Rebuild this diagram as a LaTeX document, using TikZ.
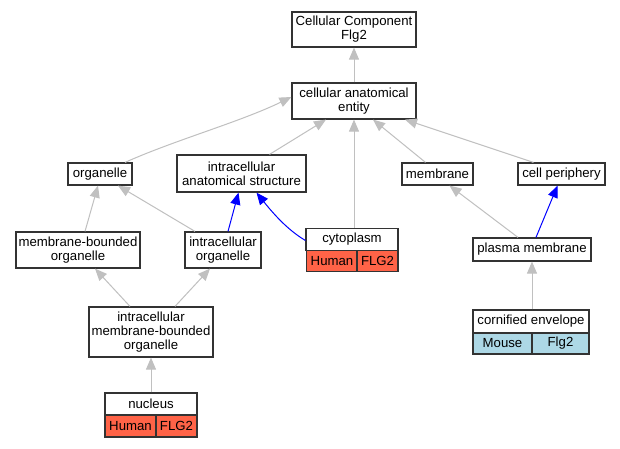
\documentclass[tikz,border=0pt]{standalone}
\usepackage{fontspec}
\setmainfont{Liberation Sans}
\usetikzlibrary{arrows.meta,calc}
\definecolor{edgegray}{HTML}{C0C0C0}
\definecolor{tomatoc}{HTML}{FF6347}
\definecolor{lblue}{HTML}{ADD8E6}
\definecolor{bord}{HTML}{333333}
\begin{document}
\begin{tikzpicture}[x=1pt,y=-1pt,
  box/.style={draw=bord,line width=1.2pt,fill=white,inner sep=0pt,align=center,
    font=\fontsize{13.2}{14}\selectfont},
  gedge/.style={draw=edgegray,line width=1pt,-{Triangle[length=12pt,width=10pt]}},
  bedge/.style={draw=blue,line width=1pt,-{Triangle[length=12pt,width=10pt]}}]
\useasboundingbox[fill=white] (0,0) rectangle (620,448);
% nodes
\node[box,minimum width=124pt,minimum height=35pt] (cc) at (354,29.5) {Cellular Component\\Flg2};
\node[box,minimum width=124pt,minimum height=36pt] (cae) at (354,101) {cellular anatomical\\entity};
\node[box,minimum width=64pt,minimum height=22pt] (org) at (100,174) {organelle};
\node[box,minimum width=129pt,minimum height=37pt] (ias) at (241.5,173.5) {intracellular\\anatomical structure};
\node[box,minimum width=71pt,minimum height=22pt] (mem) at (437.5,174) {membrane};
\node[box,minimum width=87pt,minimum height=22pt] (cp) at (561.5,174) {cell periphery};
\node[box,minimum width=124pt,minimum height=36pt] (mbo) at (78,250) {membrane-bounded\\organelle};
\node[box,minimum width=76pt,minimum height=36pt] (io) at (223,250) {intracellular\\organelle};
\node[box,minimum width=118pt,minimum height=23pt] (pm) at (532,249.5) {plasma membrane};
\node[box,minimum width=124pt,minimum height=50pt] (imbo) at (151,332) {intracellular\\membrane-bounded\\organelle};
% cytoplasm record
\node[box,minimum width=92pt,minimum height=22pt] (cyto) at (352,239.5) {cytoplasm};
\node[box,fill=tomatoc,minimum width=51pt,minimum height=21pt] (cytoa) at (332,261) {Human};
\node[box,fill=tomatoc,minimum width=41pt,minimum height=21pt] (cytob) at (377.5,261) {FLG2};
% nucleus record
\node[box,minimum width=92pt,minimum height=22pt] (nuc) at (151,404) {nucleus};
\node[box,fill=tomatoc,minimum width=51pt,minimum height=22pt] (nuca) at (130.5,426) {Human};
\node[box,fill=tomatoc,minimum width=41pt,minimum height=22pt] (nucb) at (176.5,426) {FLG2};
% cornified envelope record
\node[box,minimum width=116pt,minimum height=23pt] (ce) at (531,321.5) {cornified envelope};
\node[box,fill=lblue,minimum width=59pt,minimum height=21pt] (cea) at (502.5,343.5) {Mouse};
\node[box,fill=lblue,minimum width=57pt,minimum height=21pt] (ceb) at (560.5,343.5) {Flg2};
% edges
\path[gedge] (cae.north) -- (cc.south);
\path[gedge] ([xshift=25pt]org.north) .. controls (175,140) and (240,122) .. ([yshift=4pt]cae.west);
\path[gedge] ([xshift=28pt]ias.north) -- ([xshift=-28pt]cae.south);
\path[gedge] (cyto.north -| cae.south) -- (cae.south);
\path[gedge] ([xshift=-12pt]mem.north) -- ([xshift=19pt]cae.south);
\path[gedge] ([xshift=-28pt]cp.north) -- ([xshift=51pt]cae.south);
\path[gedge] ([xshift=7pt]mbo.north) -- ([xshift=-2pt]org.south);
\path[gedge] ([xshift=-28pt]io.north) -- ([xshift=18pt]org.south);
\path[bedge] ([xshift=5pt]io.north) -- ([xshift=-3pt]ias.south);
\path[bedge] ([yshift=-1pt]cyto.west) .. controls (293,233) and (280,222) .. ([xshift=15pt]ias.south);
\path[gedge] ([xshift=-21pt]imbo.north) -- ([xshift=17pt]mbo.south);
\path[gedge] ([xshift=24pt]imbo.north) -- ([xshift=-13pt]io.south);
\path[gedge] (nuc.north) -- (imbo.south);
\path[gedge] ([xshift=-14pt]pm.north) -- ([xshift=12pt]mem.south);
\path[bedge] ([xshift=4pt]pm.north) -- ([xshift=-4pt]cp.south);
\path[gedge] (ce.north -| pm.south) -- (pm.south);
\end{tikzpicture}
\end{document}
